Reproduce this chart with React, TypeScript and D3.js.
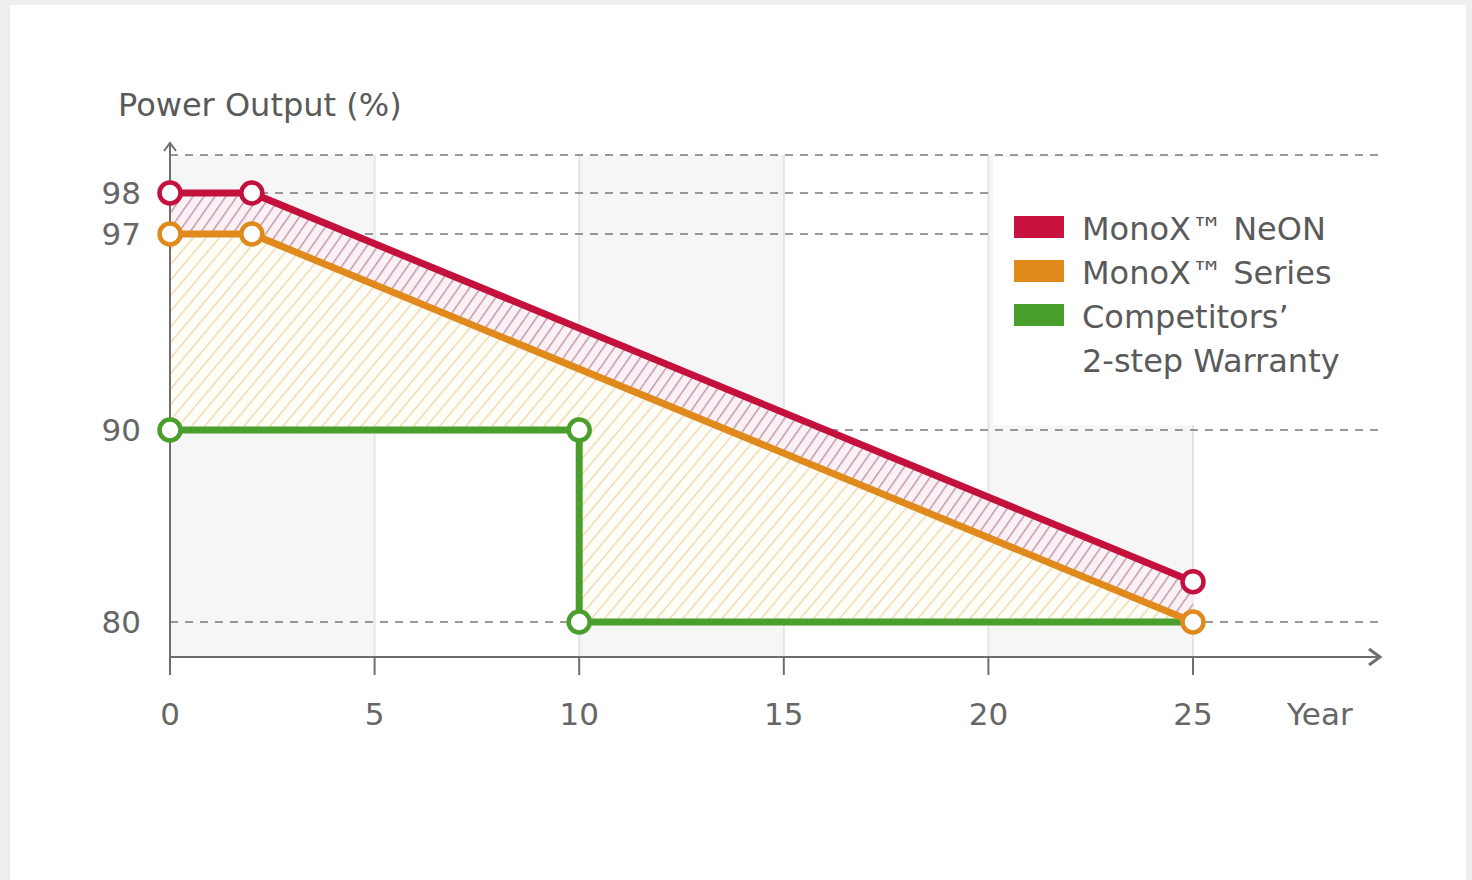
import React from "react";
import * as d3 from "d3";

const years = [0, 2, 25];
const neonValues = [98, 98, 82.1];
const seriesValues = [97, 97, 80];
const competitorYears = [0, 10, 10, 25];
const competitorValues = [90, 90, 80, 80];
const competitorMarkers = [0, 1, 2];
const xTicks = [0, 5, 10, 15, 20, 25];
const yTicks = [80, 90, 97, 98];
const gridValues = [80, 90, 97, 98, 99];
const bands = [[0, 5], [10, 15], [20, 25]];
const legendItems = [
  { label: "MonoX\u2122 NeON", color: "#c8123f" },
  { label: "MonoX\u2122 Series", color: "#e08a1c" },
  { label: "Competitors\u2019", color: "#4a9e2c" },
];
const legendExtra = "2-step Warranty";

const RED = "#c4103c";
const ORANGE = "#e08a1c";
const GREEN = "#4a9e2c";
const FONT = "'DejaVu Sans', Verdana, sans-serif";

export default function App() {
  const x = d3.scaleLinear().domain([0, 25]).range([170, 1193]);
  const y = d3.scaleLinear().domain([80, 90, 97, 98, 99]).range([622, 430, 234, 193, 155]);
  const xAxisY = 657;
  const axisLeft = x(0);
  const yTop = y(99);

  const neonPts: [number, number][] = years.map((t, i) => [x(t), y(neonValues[i])]);
  const seriesPts: [number, number][] = years.map((t, i) => [x(t), y(seriesValues[i])]);
  const compPts: [number, number][] = competitorYears.map((t, i) => [x(t), y(competitorValues[i])]);

  const line = d3.line<[number, number]>();
  const redBand = line([...neonPts, ...seriesPts.slice().reverse()]) + "Z";
  const orangeBand = line([...seriesPts, ...compPts.slice().reverse()]) + "Z";

  return (
    <svg
      width={1472}
      height={880}
      style={{ position: "absolute", left: 0, top: 0 }}
      fontFamily={FONT}
    >
      <defs>
        <pattern id="hatchRed" width={9} height={9} patternUnits="userSpaceOnUse" patternTransform="rotate(35)">
          <rect width={9} height={9} fill="#fbf1f4" />
          <line x1={0} y1={0} x2={0} y2={9} stroke="#bf93a8" strokeWidth={2.8} />
        </pattern>
        <pattern id="hatchOrange" width={10} height={10} patternUnits="userSpaceOnUse" patternTransform="rotate(40)">
          <rect width={10} height={10} fill="#fffdf8" />
          <line x1={0} y1={0} x2={0} y2={10} stroke="#f0d9b0" strokeWidth={3} />
        </pattern>
      </defs>
      <rect x={0} y={0} width={1472} height={880} fill="#eeeeee" />
      <rect x={10} y={5} width={1456} height={875} fill="#ffffff" />

      {/* bands */}
      {bands.map(([a, b], i) => (
        <rect key={i} x={x(a)} y={yTop} width={x(b) - x(a)} height={xAxisY - yTop} fill="#f6f6f6" />
      ))}
      {/* vertical gridlines */}
      {xTicks.filter((t) => t > 0).map((t) => (
        <line key={t} x1={x(t)} x2={x(t)} y1={yTop} y2={xAxisY} stroke="#e4e4e4" strokeWidth={2} />
      ))}

      {/* legend background */}
      <rect x={993} y={157} width={410} height={268} fill="#ffffff" />

      {/* horizontal dashed gridlines */}
      {gridValues.map((v) => (
        <line
          key={v}
          x1={axisLeft}
          x2={v === 97 || v === 98 ? 990 : 1385}
          y1={y(v)}
          y2={y(v)}
          stroke="#7a7a7a"
          strokeWidth={1.6}
          strokeDasharray="8 7"
        />
      ))}

      {/* hatched areas */}
      <path d={orangeBand} fill="url(#hatchOrange)" />
      <path d={redBand} fill="url(#hatchRed)" />

      {/* axes */}
      <line x1={axisLeft} x2={axisLeft} y1={143} y2={xAxisY} stroke="#6e6e6e" strokeWidth={2} />
      <path d={`M${axisLeft - 6},${151} L${axisLeft},${143} L${axisLeft + 6},${151}`} fill="none" stroke="#6e6e6e" strokeWidth={2} />
      <line x1={axisLeft} x2={1379} y1={xAxisY} y2={xAxisY} stroke="#6e6e6e" strokeWidth={2} />
      <path d={`M${1369},${xAxisY - 8} L${1380},${xAxisY} L${1369},${xAxisY + 8}`} fill="none" stroke="#6e6e6e" strokeWidth={3} />
      {xTicks.map((t) => (
        <g key={t}>
          <line x1={x(t)} x2={x(t)} y1={xAxisY} y2={xAxisY + 18} stroke="#6e6e6e" strokeWidth={2} />
          <text x={x(t)} y={725} textAnchor="middle" fontSize={31} fill="#666">
            {t}
          </text>
        </g>
      ))}
      <text x={1287} y={725} fontSize={31} fill="#666">
        Year
      </text>
      {yTicks.map((v) => (
        <text key={v} x={141} y={y(v) + 11} textAnchor="end" fontSize={31} fill="#666">
          {v}
        </text>
      ))}
      <text x={118} y={116} fontSize={32} fill="#5a5a5a">
        Power Output (%)
      </text>

      {/* lines */}
      <path d={line(compPts) ?? ""} fill="none" stroke={GREEN} strokeWidth={7} />
      <path d={line(seriesPts) ?? ""} fill="none" stroke={ORANGE} strokeWidth={7} />
      <path d={line(neonPts) ?? ""} fill="none" stroke={RED} strokeWidth={7} />

      {/* markers */}
      {competitorMarkers.map((i) => (
        <circle key={"g" + i} cx={compPts[i][0]} cy={compPts[i][1]} r={10.5} fill="#fff" stroke={GREEN} strokeWidth={4.5} />
      ))}
      {seriesPts.map((p, i) => (
        <circle key={"o" + i} cx={p[0]} cy={p[1]} r={10.5} fill="#fff" stroke={ORANGE} strokeWidth={4.5} />
      ))}
      {neonPts.map((p, i) => (
        <circle key={"r" + i} cx={p[0]} cy={p[1]} r={10.5} fill="#fff" stroke={RED} strokeWidth={4.5} />
      ))}

      {/* legend */}
      {legendItems.map((it, i) => (
        <g key={it.label}>
          <rect x={1014} y={216 + i * 44} width={50} height={22} fill={it.color} />
          <text x={1082} y={240 + i * 44} fontSize={32} fill="#5a5a5a">
            {it.label}
          </text>
        </g>
      ))}
      <text x={1082} y={240 + 3 * 44} fontSize={32} fill="#5a5a5a">
        {legendExtra}
      </text>
    </svg>
  );
}
